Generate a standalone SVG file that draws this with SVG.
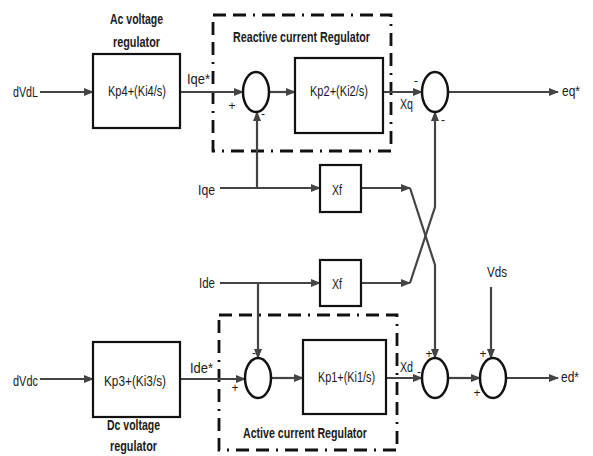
<svg xmlns="http://www.w3.org/2000/svg" width="593" height="456" viewBox="0 0 593 456">
<style>
text{font-family:"Liberation Sans Narrow","Liberation Sans",Arial,sans-serif;font-size:15px;fill:#1a1a1a}
.b{font-weight:bold}
.s{font-size:12px;text-anchor:middle}
.blk{fill:#fff;stroke:#111;stroke-width:2.2}
.sum{fill:#fff;stroke:#111;stroke-width:2.5}
.ln{fill:none;stroke:#444;stroke-width:2.2}
.dash{fill:none;stroke:#111;stroke-width:2.8;stroke-dasharray:13 7 13 7 2 7}
</style>
<defs>
<marker id="ar" markerUnits="userSpaceOnUse" markerWidth="10" markerHeight="8" refX="9" refY="4" orient="auto">
<path d="M0,0 L10,4 L0,8 Z" fill="#444"/>
</marker>
</defs>
<rect width="593" height="456" fill="#fff"/>

<g id="reactive-group">
<rect class="dash" x="213" y="15" width="178" height="136"/>
<text class="b" x="233" y="42" textLength="137" lengthAdjust="spacingAndGlyphs">Reactive current Regulator</text>
</g>
<g id="active-group">
<rect class="dash" x="219" y="315" width="178" height="135"/>
<text class="b" x="243" y="438" textLength="124" lengthAdjust="spacingAndGlyphs">Active current Regulator</text>
</g>

<g id="connectors">
<path class="ln" d="M40,92 H93" marker-end="url(#ar)"/>
<path class="ln" d="M180,92 H243" marker-end="url(#ar)"/>
<path class="ln" d="M269,92 H295" marker-end="url(#ar)"/>
<path class="ln" d="M383,92 H422" marker-end="url(#ar)"/>
<path class="ln" d="M448,92 H558" marker-end="url(#ar)"/>
<path class="ln" d="M220,188 H320" marker-end="url(#ar)"/>
<path class="ln" d="M257,188 V112" marker-end="url(#ar)"/>
<path class="ln" d="M361,188 H410" marker-end="url(#ar)"/>
<path class="ln" d="M410,188 L435,265 V358" marker-end="url(#ar)"/>
<path class="ln" d="M220,283 H320" marker-end="url(#ar)"/>
<path class="ln" d="M258,283 V358" marker-end="url(#ar)"/>
<path class="ln" d="M361,283 H410" marker-end="url(#ar)"/>
<path class="ln" d="M410,283 L435,207 V112" marker-end="url(#ar)"/>
<path class="ln" d="M40,379 H93" marker-end="url(#ar)"/>
<path class="ln" d="M180,379 H245" marker-end="url(#ar)"/>
<path class="ln" d="M271,378 H303" marker-end="url(#ar)"/>
<path class="ln" d="M386,378 H422" marker-end="url(#ar)"/>
<path class="ln" d="M448,378 H480" marker-end="url(#ar)"/>
<path class="ln" d="M506,378 H558" marker-end="url(#ar)"/>
<path class="ln" d="M491,287 V358" marker-end="url(#ar)"/>
</g>

<g id="ac-voltage-regulator">
<rect class="blk" x="93" y="54" width="87" height="74"/>
<text x="108" y="96" textLength="58" lengthAdjust="spacingAndGlyphs">Kp4+(Ki4/s)</text>
<text class="b" x="110" y="24" textLength="53" lengthAdjust="spacingAndGlyphs">Ac voltage</text>
<text class="b" x="113" y="47" textLength="47" lengthAdjust="spacingAndGlyphs">regulator</text>
</g>
<g id="reactive-pi">
<rect class="blk" x="295" y="58" width="88" height="75"/>
<text x="310" y="96" textLength="58" lengthAdjust="spacingAndGlyphs">Kp2+(Ki2/s)</text>
</g>
<g id="xf-upper">
<rect class="blk" x="320" y="165" width="41" height="47"/>
<text x="332" y="195" textLength="10" lengthAdjust="spacingAndGlyphs">Xf</text>
</g>
<g id="xf-lower">
<rect class="blk" x="320" y="260" width="41" height="46"/>
<text x="332" y="289" textLength="10" lengthAdjust="spacingAndGlyphs">Xf</text>
</g>
<g id="dc-voltage-regulator">
<rect class="blk" x="93" y="342" width="87" height="75"/>
<text x="104" y="386" textLength="62" lengthAdjust="spacingAndGlyphs">Kp3+(Ki3/s)</text>
<text class="b" x="107" y="430" textLength="53" lengthAdjust="spacingAndGlyphs">Dc voltage</text>
<text class="b" x="110" y="451" textLength="47" lengthAdjust="spacingAndGlyphs">regulator</text>
</g>
<g id="active-pi">
<rect class="blk" x="303" y="340" width="83" height="74"/>
<text x="318" y="382" textLength="57" lengthAdjust="spacingAndGlyphs">Kp1+(Ki1/s)</text>
</g>

<g id="sum-q1">
<ellipse class="sum" cx="256" cy="92" rx="13" ry="20"/>
<text class="s" x="232" y="110">+</text>
<text class="s" x="263" y="118">-</text>
</g>
<g id="sum-q2">
<ellipse class="sum" cx="435" cy="92" rx="13" ry="20"/>
<text class="s" x="416" y="85">-</text>
<text class="s" x="443" y="124">-</text>
</g>
<g id="sum-d1">
<ellipse class="sum" cx="258" cy="378" rx="13" ry="20"/>
<text class="s" x="254" y="357">-</text>
<text class="s" x="235" y="392">+</text>
</g>
<g id="sum-d2">
<ellipse class="sum" cx="435" cy="378" rx="13" ry="20"/>
<text class="s" x="429" y="358">+</text>
<text class="s" x="419" y="376">-</text>
</g>
<g id="sum-d3">
<ellipse class="sum" cx="493" cy="378" rx="13" ry="20"/>
<text class="s" x="483" y="358">+</text>
<text class="s" x="477" y="397">+</text>
</g>

<g id="labels">
<text x="13" y="97" textLength="25" lengthAdjust="spacingAndGlyphs">dVdL</text>
<text x="187" y="84" textLength="23" lengthAdjust="spacingAndGlyphs">Iqe*</text>
<text x="400" y="109" textLength="13" lengthAdjust="spacingAndGlyphs">Xq</text>
<text x="562" y="96" textLength="18" lengthAdjust="spacingAndGlyphs">eq*</text>
<text x="198" y="195" textLength="17" lengthAdjust="spacingAndGlyphs">Iqe</text>
<text x="199" y="288" textLength="16" lengthAdjust="spacingAndGlyphs">Ide</text>
<text x="487" y="277" textLength="20" lengthAdjust="spacingAndGlyphs">Vds</text>
<text x="13" y="386" textLength="25" lengthAdjust="spacingAndGlyphs">dVdc</text>
<text x="190" y="373" textLength="23" lengthAdjust="spacingAndGlyphs">Ide*</text>
<text x="400" y="372" textLength="13" lengthAdjust="spacingAndGlyphs">Xd</text>
<text x="561" y="382" textLength="18" lengthAdjust="spacingAndGlyphs">ed*</text>
</g>
</svg>
